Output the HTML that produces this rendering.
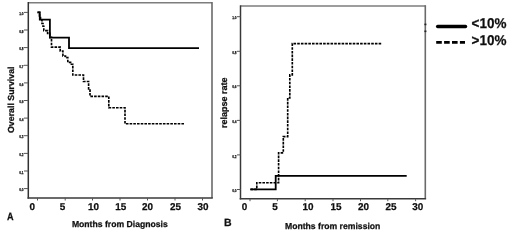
<!DOCTYPE html>
<html><head><meta charset="utf-8">
<style>
html,body{margin:0;padding:0;background:#fff;width:520px;height:245px;overflow:hidden}
svg{position:absolute;left:0;top:0;display:block}
text{text-rendering:geometricPrecision;font-family:"Liberation Sans",sans-serif;font-weight:bold;fill:#111;stroke:#111;stroke-width:0.25px}
.tl{font-size:9.9px}
.sm{font-size:4.2px;font-weight:normal;fill:#a8a8a8;stroke:none}
.ttl{font-size:8.65px}
</style></head>
<body>
<svg width="520" height="245" viewBox="0 0 520 245">
<defs><filter id="bl" x="0" y="0" width="520" height="245" filterUnits="userSpaceOnUse"><feGaussianBlur stdDeviation="0.35"/></filter></defs>
<g filter="url(#bl)">
<!-- LEFT CHART frame -->
<line x1="28.3" y1="2.7" x2="212" y2="2.7" stroke="#7d7d7d" stroke-width="1.6"/>
<line x1="212" y1="1.9" x2="212" y2="197.9" stroke="#6a6a6a" stroke-width="1.6"/>
<line x1="28.3" y1="2" x2="28.3" y2="198.6" stroke="#303030" stroke-width="1.5"/>
<line x1="27.5" y1="197.9" x2="212.8" y2="197.9" stroke="#3a3a3a" stroke-width="1.5"/>
<!-- left y ticks -->
<g stroke="#555" stroke-width="1">
<line x1="24" y1="12.4" x2="28.3" y2="12.4"/>
<line x1="24" y1="30.0" x2="28.3" y2="30.0"/>
<line x1="24" y1="47.6" x2="28.3" y2="47.6"/>
<line x1="24" y1="65.3" x2="28.3" y2="65.3"/>
<line x1="24" y1="82.9" x2="28.3" y2="82.9"/>
<line x1="24" y1="100.5" x2="28.3" y2="100.5"/>
<line x1="24" y1="118.1" x2="28.3" y2="118.1"/>
<line x1="24" y1="135.7" x2="28.3" y2="135.7"/>
<line x1="24" y1="153.4" x2="28.3" y2="153.4"/>
<line x1="24" y1="171.0" x2="28.3" y2="171.0"/>
<line x1="24" y1="188.6" x2="28.3" y2="188.6"/>
</g>
<g class="sm" text-anchor="end">
<text transform="translate(23.6,15.0) scale(0.75,1)">1.0</text>
<text transform="translate(23.6,32.6) scale(0.75,1)">0.9</text>
<text transform="translate(23.6,50.2) scale(0.75,1)">0.8</text>
<text transform="translate(23.6,67.9) scale(0.75,1)">0.7</text>
<text transform="translate(23.6,85.5) scale(0.75,1)">0.6</text>
<text transform="translate(23.6,103.1) scale(0.75,1)">0.5</text>
<text transform="translate(23.6,120.7) scale(0.75,1)">0.4</text>
<text transform="translate(23.6,138.3) scale(0.75,1)">0.3</text>
<text transform="translate(23.6,156.0) scale(0.75,1)">0.2</text>
<text transform="translate(23.6,173.6) scale(0.75,1)">0.1</text>
<text transform="translate(23.6,191.2) scale(0.75,1)">0.0</text>
</g>
<!-- left x ticks -->
<g stroke="#555" stroke-width="1">
<line x1="37.5" y1="197.9" x2="37.5" y2="200.5"/>
<line x1="65.2" y1="197.9" x2="65.2" y2="200.5"/>
<line x1="92.5" y1="197.9" x2="92.5" y2="200.5"/>
<line x1="120" y1="197.9" x2="120" y2="200.5"/>
<line x1="147.5" y1="197.9" x2="147.5" y2="200.5"/>
<line x1="175" y1="197.9" x2="175" y2="200.5"/>
<line x1="202.5" y1="197.9" x2="202.5" y2="200.5"/>
</g>
<g class="tl" text-anchor="middle">
<text x="32.3" y="210.4">0</text>
<text x="62.5" y="210.4">5</text>
<text x="93.4" y="210.4">10</text>
<text x="120.8" y="210.4">15</text>
<text x="147.5" y="210.4">20</text>
<text x="175.6" y="210.4">25</text>
<text x="203" y="210.4">30</text>
</g>
<text transform="translate(6.9,220.3) scale(0.86,1)" style="font-size:10.6px">A</text>
<text x="71.9" y="226.9" class="ttl">Months from Diagnosis</text>
<text transform="translate(14.2,133) rotate(-90)" style="font-size:8.8px">Overall Survival</text>

<!-- left curves -->
<path d="M37.5 12.3 H39.8 V19.6 H49.9 V37.6 H69 V48.2 H199" fill="none" stroke="#000" stroke-width="1.8"/>
<path d="M37.5 12.3 H39.5 V16 H40.5 V20 H42 V23.5 H43 V26.2 H43.8 V30.6 H47.6 V33.4 H49.8 V37.3 H51.5 V47.1 H60.2 V51 H62.9 V56 H65.5 V57.6 H67.8 V62.4 H71.4 V64.2 H72.8 V75 H83.5 V81.5 H88.6 V88.9 H90 V96.3 H108.8 V107.7 H125 V123.7 H184" fill="none" stroke="#000" stroke-width="1.65" stroke-dasharray="2.6 1.1"/>

<!-- RIGHT CHART frame -->
<line x1="240.5" y1="6" x2="425.3" y2="6" stroke="#7d7d7d" stroke-width="1.6"/>
<line x1="425.3" y1="5.2" x2="425.3" y2="198.7" stroke="#6a6a6a" stroke-width="1.6"/>
<line x1="240.5" y1="5.3" x2="240.5" y2="199.4" stroke="#383838" stroke-width="1.5"/>
<line x1="239.7" y1="198.7" x2="426.1" y2="198.7" stroke="#3a3a3a" stroke-width="1.5"/>
<g stroke="#555" stroke-width="1">
<line x1="237" y1="16.7" x2="240.5" y2="16.7"/>
<line x1="237" y1="51.3" x2="240.5" y2="51.3"/>
<line x1="237" y1="85.8" x2="240.5" y2="85.8"/>
<line x1="237" y1="120.4" x2="240.5" y2="120.4"/>
<line x1="237" y1="154.9" x2="240.5" y2="154.9"/>
<line x1="237" y1="189.5" x2="240.5" y2="189.5"/>
</g>
<g class="sm" text-anchor="end">
<text transform="translate(236.6,19.3) scale(0.75,1)">1.0</text>
<text transform="translate(236.6,53.9) scale(0.75,1)">0.8</text>
<text transform="translate(236.6,88.4) scale(0.75,1)">0.6</text>
<text transform="translate(236.6,123.0) scale(0.75,1)">0.4</text>
<text transform="translate(236.6,157.5) scale(0.75,1)">0.2</text>
<text transform="translate(236.6,192.1) scale(0.75,1)">0.0</text>
</g>
<g stroke="#555" stroke-width="1">
<line x1="250" y1="198.7" x2="250" y2="201.2"/>
<line x1="277.4" y1="198.7" x2="277.4" y2="201.2"/>
<line x1="305.2" y1="198.7" x2="305.2" y2="201.2"/>
<line x1="333" y1="198.7" x2="333" y2="201.2"/>
<line x1="360.5" y1="198.7" x2="360.5" y2="201.2"/>
<line x1="387.8" y1="198.7" x2="387.8" y2="201.2"/>
<line x1="415.6" y1="198.7" x2="415.6" y2="201.2"/>
</g>
<g class="tl" text-anchor="middle">
<text x="244.4" y="210.4">0</text>
<text x="275" y="210.4">5</text>
<text x="308" y="210.4">10</text>
<text x="336" y="210.4">15</text>
<text x="363.4" y="210.4">20</text>
<text x="391" y="210.4">25</text>
<text x="417.8" y="210.4">30</text>
</g>
<text x="224" y="226.3" style="font-size:10.5px">B</text>
<text x="285" y="228.8" class="ttl">Months from remission</text>
<text transform="translate(226.8,128.1) rotate(-90)" style="font-size:9px">relapse rate</text>

<!-- right curves -->
<path d="M250.3 189.4 H275.7 V175.8 H406.7" fill="none" stroke="#000" stroke-width="1.8"/>
<path d="M250.5 189.3 H256.8 V182.7 H278.6 V152.8 H283.3 V136.6 H287.7 V98 H289.8 V74.8 H292.3 V43.6 H382.2" fill="none" stroke="#000" stroke-width="1.65" stroke-dasharray="2.6 1.1"/>

<!-- legend -->
<rect x="424.4" y="23.6" width="2" height="1.6" fill="#222"/>
<rect x="424.4" y="30.5" width="2" height="1.6" fill="#222"/>
<line x1="437.6" y1="26.5" x2="465.6" y2="26.5" stroke="#000" stroke-width="3.3" stroke-linecap="round"/>
<line x1="436.2" y1="42.4" x2="465" y2="42.4" stroke="#000" stroke-width="2.6" stroke-dasharray="5.6 2.3"/>
<text transform="translate(471.6,27.9) scale(0.95,1)" style="font-size:14.2px">&lt;10%</text>
<text transform="translate(471.6,44.8) scale(0.95,1)" style="font-size:14.2px">&gt;10%</text>
</g>
</svg>
</body></html>
